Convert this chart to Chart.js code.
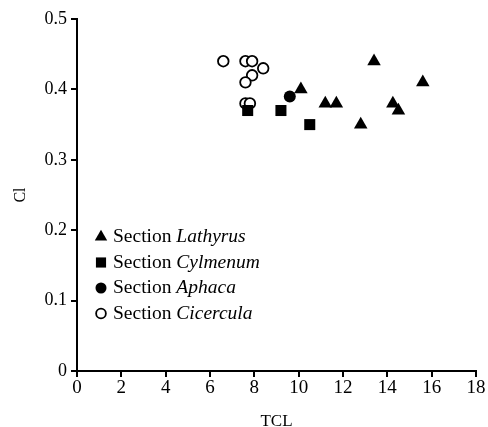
<!DOCTYPE html>
<html>
<head>
<meta charset="utf-8">
<script src="https://cdn.jsdelivr.net/npm/chart.js@4/dist/chart.umd.min.js"></script>
<style>
html,body{margin:0;padding:0;background:#fff;}
#wrap{position:relative;width:488px;height:427px;}
</style>
</head>
<body>
<div id="wrap"><canvas id="c" width="488" height="427"></canvas></div>
<script>
// Data
const seriesNames = ['Lathyrus', 'Cylmenum', 'Aphaca', 'Cicercula'];
const lathyrusTCL = [10.1, 11.2, 11.7, 13.4, 15.6, 12.8, 14.25, 14.5];
const lathyrusCl  = [0.40, 0.38, 0.38, 0.44, 0.41, 0.35, 0.38, 0.37];
const cylmenumTCL = [7.7, 9.2, 10.5];
const cylmenumCl  = [0.37, 0.37, 0.35];
const aphacaTCL = [9.6];
const aphacaCl  = [0.39];
const cicerculaTCL = [6.6, 7.6, 7.9, 8.4, 7.9, 7.6, 7.6, 7.8];
const cicerculaCl  = [0.44, 0.44, 0.44, 0.43, 0.42, 0.41, 0.38, 0.38];
const xTicks = [0, 2, 4, 6, 8, 10, 12, 14, 16, 18];
const yTicks = [0, 0.1, 0.2, 0.3, 0.4, 0.5];

function pts(xs, ys) { return xs.map((x, i) => ({x: x, y: ys[i]})); }

const FONT = "'Liberation Serif', 'Times New Roman', serif";
const styles = [
  {pointStyle: 'triangle', radius: 7.8, bg: '#000', border: '#000', bw: 0},
  {pointStyle: 'rect', radius: 7.8, bg: '#000', border: '#000', bw: 0},
  {pointStyle: 'circle', radius: 6, bg: '#000', border: '#000', bw: 0},
  {pointStyle: 'circle', radius: 5.3, bg: '#fff', border: '#000', bw: 1.8}
];
const dataSets = [pts(lathyrusTCL, lathyrusCl), pts(cylmenumTCL, cylmenumCl), pts(aphacaTCL, aphacaCl), pts(cicerculaTCL, cicerculaCl)];

const legendPlugin = {
  id: 'inlineLegend',
  afterDraw(chart) {
    const ctx = chart.ctx;
    const x0 = 101, y0 = 237, dy = 25.5;
    ctx.save();
    seriesNames.forEach((name, i) => {
      const s = styles[i];
      const y = y0 + i * dy;
      ctx.fillStyle = s.bg;
      ctx.strokeStyle = s.border;
      ctx.lineWidth = s.bw;
      Chart.helpers.drawPoint(ctx, {pointStyle: s.pointStyle, radius: s.radius * 0.92, rotation: 0, borderWidth: s.bw}, x0, y);
      ctx.fillStyle = '#000';
      ctx.textBaseline = 'middle';
      ctx.textAlign = 'left';
      ctx.font = '19.5px ' + FONT;
      const pre = 'Section ';
      ctx.fillText(pre, 113, y);
      const w = ctx.measureText(pre).width;
      ctx.font = 'italic 19.5px ' + FONT;
      ctx.fillText(name, 113 + w, y);
    });
    ctx.restore();
  }
};

new Chart(document.getElementById('c'), {
  type: 'scatter',
  data: {
    datasets: dataSets.map((d, i) => ({
      label: 'Section ' + seriesNames[i],
      data: d,
      pointStyle: styles[i].pointStyle,
      pointRadius: styles[i].radius,
      pointHoverRadius: styles[i].radius,
      backgroundColor: styles[i].bg,
      borderColor: styles[i].border,
      borderWidth: styles[i].bw
    }))
  },
  options: {
    responsive: false,
    animation: false,
    layout: {padding: {top: 19, right: 12, left: 0, bottom: 0}},
    plugins: {legend: {display: false}, tooltip: {enabled: false}},
    scales: {
      x: {
        type: 'linear', min: 0, max: 18,
        afterBuildTicks: (s) => { s.ticks = xTicks.map(v => ({value: v})); },
        afterFit: (s) => { s.height = 56; },
        grid: {drawOnChartArea: false, drawTicks: true, tickLength: 6, color: '#000', lineWidth: 2},
        border: {display: true, color: '#000', width: 2},
        ticks: {color: '#000', font: {family: FONT, size: 19}, padding: 0, maxRotation: 0, autoSkip: false},
        title: {display: true, text: 'TCL', color: '#000', font: {family: FONT, size: 17}, padding: {top: 0, bottom: -5}}
      },
      y: {
        type: 'linear', min: 0, max: 0.5,
        afterBuildTicks: (s) => { s.ticks = yTicks.map(v => ({value: v})); },
        afterFit: (s) => { s.width = 77; },
        grid: {drawOnChartArea: false, drawTicks: true, tickLength: 6, color: '#000', lineWidth: 2},
        border: {display: true, color: '#000', width: 2},
        ticks: {color: '#000', font: {family: FONT, size: 18}, padding: 4, autoSkip: false,
          callback: (v) => v === 0 ? '0' : v.toFixed(1)},
        title: {display: true, text: 'Cl', color: '#000', font: {family: FONT, size: 16}, padding: {top: 11, bottom: 0}}
      }
    }
  },
  plugins: [legendPlugin]
});
</script>
</body>
</html>
